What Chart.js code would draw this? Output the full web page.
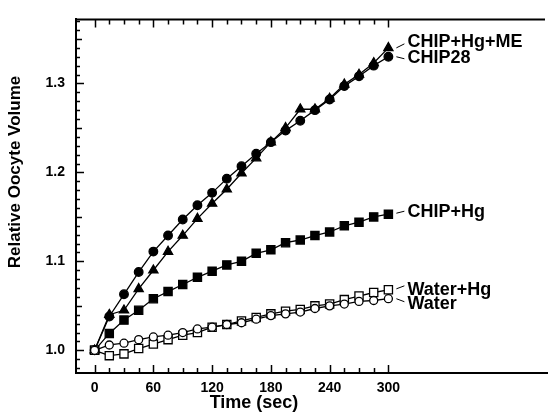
<!DOCTYPE html>
<html>
  <head>
    <title>Oocyte volume</title>
    <script src="https://cdn.jsdelivr.net/npm/chart.js"></script>
    <style>
      body { margin: 0; background: #fff; }
      #wrap { width: 548px; height: 414px; }
    </style>
  </head>

  <body>
    <div id="wrap">
      <canvas id="grafico" width="548" height="414"></canvas>
    </div>

    <script>
      // time points (sec)
      var tempos = [0, 15, 30, 45, 60, 75, 90, 105, 120, 135, 150, 165, 180, 195, 210, 225, 240, 255, 270, 285, 300];

      var chip28 = [1.000, 1.038, 1.063, 1.088, 1.111, 1.129, 1.147, 1.163, 1.177, 1.193, 1.207,
                    1.221, 1.234, 1.247, 1.258, 1.270, 1.282, 1.297, 1.308, 1.320, 1.330];
      var chipHgMe = [1.000, 1.040, 1.045, 1.069, 1.090, 1.111, 1.129, 1.148, 1.165, 1.181, 1.199,
                      1.216, 1.234, 1.250, 1.271, 1.271, 1.283, 1.299, 1.310, 1.323, 1.340];
      var chipHg = [1.000, 1.019, 1.034, 1.045, 1.058, 1.066, 1.074, 1.082, 1.089, 1.096, 1.100,
                    1.109, 1.113, 1.121, 1.124, 1.129, 1.133, 1.140, 1.144, 1.150, 1.153];
      var water = [1.000, 1.006, 1.008, 1.012, 1.015, 1.017, 1.020, 1.024, 1.026, 1.029, 1.031,
                   1.035, 1.039, 1.041, 1.043, 1.047, 1.050, 1.052, 1.055, 1.056, 1.058];
      var waterHg = [1.000, 0.994, 0.996, 1.002, 1.007, 1.012, 1.017, 1.020, 1.026, 1.029, 1.033,
                     1.037, 1.041, 1.044, 1.046, 1.050, 1.052, 1.057, 1.061, 1.065, 1.068];

      var xTicks = [0, 60, 120, 180, 240, 300];
      var yTicks = [1.0, 1.1, 1.2, 1.3];

      var fonte = "'Liberation Sans', Arial, Helvetica, sans-serif";

      function pares(valores) {
        return tempos.map((t, i) => ({ x: t, y: valores[i] }));
      }

      function serie(label, valores, estilo, cheio, raio, fim) {
        return {
          label: label,
          data: pares(valores),
          borderColor: "#000",
          borderWidth: 1.3,
          backgroundColor: "#000",
          pointStyle: estilo,
          pointRadius: raio,
          pointBorderWidth: 1.3,
          pointBorderColor: "#000",
          pointBackgroundColor: cheio ? "#000" : "#fff",
          tension: 0,
          fim: fim,
        };
      }

      // inward ticks, top border, axis titles, curve labels
      var extras = {
        id: "extras",
        afterDraw(chart) {
          var ctx = chart.ctx;
          var a = chart.chartArea;
          var sx = chart.scales.x;
          var sy = chart.scales.y;
          ctx.save();
          ctx.strokeStyle = "#000";
          ctx.lineWidth = 2;
          ctx.beginPath();
          ctx.moveTo(a.left - 1, a.top);
          ctx.lineTo(a.right - 3, a.top);
          ctx.stroke();

          ctx.lineWidth = 1.5;
          ctx.beginPath();
          for (var t = 0; t <= 300; t += 15) {
            var px = Math.round(sx.getPixelForValue(t)) + 0.5;
            var len = t % 60 == 0 ? 8 : 5;
            ctx.moveTo(px, a.bottom);
            ctx.lineTo(px, a.bottom - len);
            ctx.moveTo(px, a.top);
            ctx.lineTo(px, a.top + len);
          }
          for (var k = 98; k <= 137; k++) {
            var py = Math.round(sy.getPixelForValue(k / 100)) + 0.5;
            var l = k % 10 == 0 ? 8 : k % 5 == 0 ? 6 : 4;
            ctx.moveTo(a.left, py);
            ctx.lineTo(a.left + l, py);
          }
          ctx.stroke();

          // axis titles
          ctx.fillStyle = "#000";
          ctx.font = "bold 18px " + fonte;
          ctx.textAlign = "center";
          ctx.textBaseline = "middle";
          ctx.fillText("Time (sec)", 254, 403);
          ctx.font = "bold 17px " + fonte;
          ctx.save();
          ctx.translate(15, 172);
          ctx.rotate(-Math.PI / 2);
          ctx.fillText("Relative Oocyte Volume", 0, 0);
          ctx.restore();

          // curve labels with leader lines
          ctx.font = "bold 18px " + fonte;
          ctx.textAlign = "left";
          ctx.lineWidth = 1;
          chart.data.datasets.forEach((ds, i) => {
            var pts = chart.getDatasetMeta(i).data;
            var p = pts[pts.length - 1];
            var f = ds.fim;
            ctx.beginPath();
            ctx.moveTo(p.x + 8, p.y + f.dy1);
            ctx.lineTo(p.x + 16, p.y + f.dy2);
            ctx.stroke();
            ctx.fillText(ds.label, p.x + 19, p.y + f.ty);
          });
          ctx.restore();
        },
      };

      var grafico = new Chart(document.getElementById("grafico").getContext("2d"), {
        type: "line",
        data: {
          datasets: [
            serie("Water", water, "circle", false, 4, { dy1: 0, dy2: 3, ty: 5.5 }),
            serie("Water+Hg", waterHg, "rect", false, 5.8, { dy1: -1, dy2: -4, ty: 0 }),
            serie("CHIP+Hg", chipHg, "rect", true, 5.8, { dy1: -1, dy2: -3, ty: -2 }),
            serie("CHIP28", chip28, "circle", true, 4.3, { dy1: 0, dy2: 2, ty: 1 }),
            serie("CHIP+Hg+ME", chipHgMe, "triangle", true, 5.3, { dy1: 0, dy2: -4, ty: -6 }),
          ],
        },
        options: {
          responsive: false,
          animation: false,
          devicePixelRatio: 1,
          layout: { autoPadding: false, padding: { top: 14, right: 0, left: 0, bottom: 0 } },
          plugins: { legend: { display: false }, tooltip: { enabled: false } },
          scales: {
            x: {
              type: "linear",
              min: -19,
              max: 463,
              afterBuildTicks: (s) => { s.ticks = xTicks.map((v) => ({ value: v })); },
              afterFit: (s) => { s.height = 41; },
              grid: { drawOnChartArea: false, drawTicks: false },
              border: { display: true, color: "#000", width: 2 },
              ticks: {
                color: "#000",
                padding: 7,
                maxRotation: 0,
                font: { family: fonte, size: 14, weight: "bold" },
              },
            },
            y: {
              min: 0.9745,
              max: 1.372,
              afterBuildTicks: (s) => { s.ticks = yTicks.map((v) => ({ value: v })); },
              afterFit: (s) => { s.width = 76; },
              grid: { drawOnChartArea: false, drawTicks: false },
              border: { display: true, color: "#000", width: 2 },
              ticks: {
                color: "#000",
                padding: 11,
                callback: (v) => v.toFixed(1),
                font: { family: fonte, size: 14, weight: "bold" },
              },
            },
          },
        },
        plugins: [extras],
      });
    </script>
  </body>
</html>
